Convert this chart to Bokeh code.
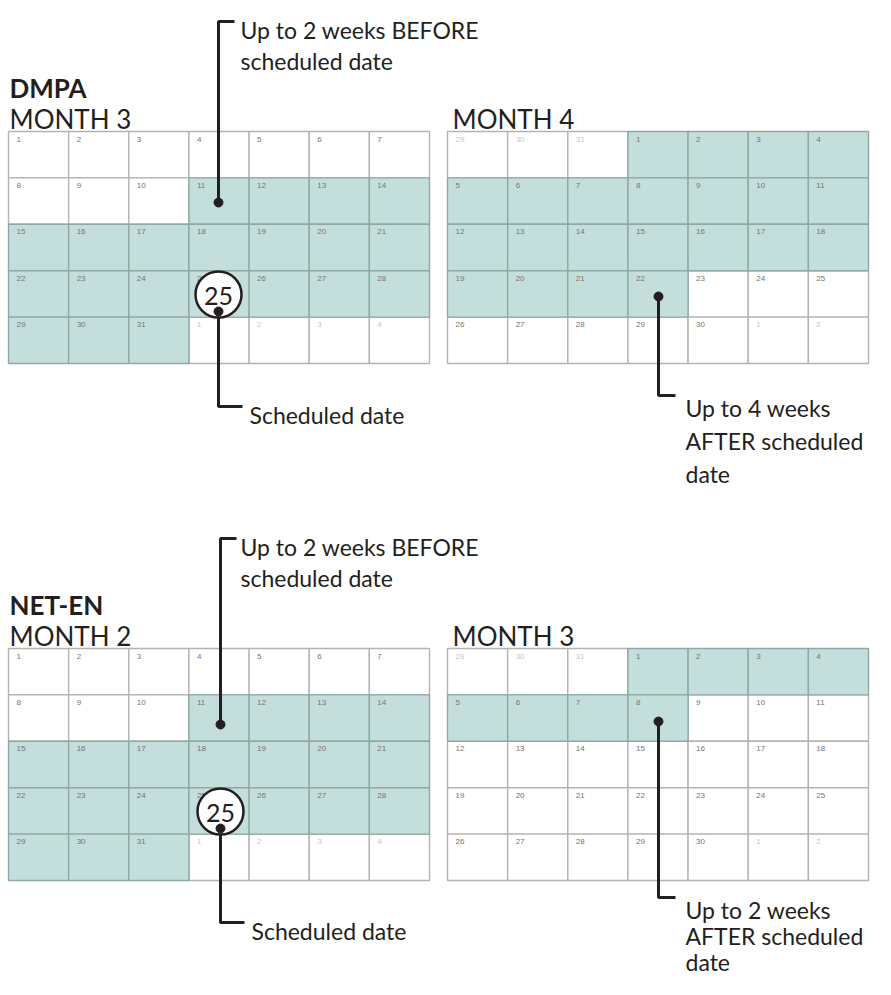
from bokeh.plotting import figure
from bokeh.models import Range1d, ColumnDataSource
from bokeh.core.properties import value
from bokeh.embed import file_html
from bokeh.resources import INLINE

# ---------------- data ----------------
# Calendar A (first month shown: day 1 on first cell)
days_first = [1, 2, 3, 4, 5, 6, 7,
              8, 9, 10, 11, 12, 13, 14,
              15, 16, 17, 18, 19, 20, 21,
              22, 23, 24, 25, 26, 27, 28,
              29, 30, 31, 1, 2, 3, 4]
in_month_first = [1] * 31 + [0] * 4

# Calendar B (following month: starts on 4th weekday)
days_second = [29, 30, 31, 1, 2, 3, 4,
               5, 6, 7, 8, 9, 10, 11,
               12, 13, 14, 15, 16, 17, 18,
               19, 20, 21, 22, 23, 24, 25,
               26, 27, 28, 29, 30, 1, 2]
in_month_second = [0] * 3 + [1] * 30 + [0] * 2

# Window of days (day numbers inside the month) that are highlighted
dmpa_first_window = (11, 31)
dmpa_second_window = (1, 22)
neten_first_window = (11, 31)
neten_second_window = (1, 8)
scheduled_day = "25"

titles = ["DMPA", "NET-EN"]
month_labels = [("MONTH 3", "MONTH 4"), ("MONTH 2", "MONTH 3")]
before_text = ["Up to 2 weeks BEFORE", "scheduled date"]
sched_text = "Scheduled date"
after_texts = [["Up to 4 weeks", "AFTER scheduled", "date"],
               ["Up to 2 weeks", "AFTER scheduled", "date"]]

# ---------------- styles ----------------
FONT = "Lato"
INK = "#231f20"
TEAL = "#c4dfdb"
TEAL_LINE = "#8ea9a5"
GRID_LINE = "#b4b4b4"
NUM_IN = "#747474"
NUM_OUT = "#c6c6c6"

W, H = 875, 979
p = figure(width=W, height=H, output_backend="svg", toolbar_location=None,
           x_range=Range1d(0, W), y_range=Range1d(H, 0),
           x_axis_type=None, y_axis_type=None, min_border=0)
p.grid.visible = False
p.outline_line_color = None
p.background_fill_color = "white"
p.border_fill_color = "white"

CAL_W, CAL_H = 421.0, 232.0


def draw_calendar(x0, y0, days, in_month, window):
    cw = CAL_W / 7
    rh = CAL_H / 5
    data = {k: [] for k in ["l", "r", "t", "b", "fill", "line", "tx", "ty",
                            "lab", "col", "hl"]}
    for i, (d, m) in enumerate(zip(days, in_month)):
        c, r = i % 7, i // 7
        left = x0 + c * cw
        top = y0 + r * rh
        hl = bool(m) and window[0] <= d <= window[1]
        data["l"].append(left)
        data["r"].append(left + cw)
        data["t"].append(top)
        data["b"].append(top + rh)
        data["fill"].append(TEAL if hl else "white")
        data["line"].append(TEAL_LINE if hl else GRID_LINE)
        data["tx"].append(left + 8)
        data["ty"].append(top + 5)
        data["lab"].append(str(d))
        data["col"].append(NUM_IN if m else NUM_OUT)
        data["hl"].append(hl)
    order = [i for i in range(len(days)) if not data["hl"][i]] + \
            [i for i in range(len(days)) if data["hl"][i]]
    src = ColumnDataSource({k: [v[i] for i in order] for k, v in data.items()})
    p.quad(left="l", right="r", top="t", bottom="b", fill_color="fill",
           line_color="line", line_width=1.4, source=src)
    p.text(x="tx", y="ty", text="lab", text_color="col",
           text_font=value("Liberation Sans"), text_font_size="8px",
           text_baseline="top", text_align="left", source=src)


def label(x, y, txt, size="23px", bold=False):
    p.text(x=[x], y=[y], text=[txt], text_color=INK, text_font=value(FONT),
           text_font_size=size, text_baseline="alphabetic", text_align="left",
           text_font_style="bold" if bold else "normal")


LX, RX = 8, 447
blocks = [
    dict(y0=131, windows=(dmpa_first_window, dmpa_second_window),
         title=titles[0], months=month_labels[0], after=after_texts[0],
         before_y=21, before_dot=(218, 202), circ=(218, 294), sched_y=406,
         after_dot=(658, 296), after_y=395, after_gap=33),
    dict(y0=648, windows=(neten_first_window, neten_second_window),
         title=titles[1], months=month_labels[1], after=after_texts[1],
         before_y=538, before_dot=(220, 724), circ=(220, 811), sched_y=922,
         after_dot=(658, 721), after_y=897, after_gap=26),
]

for b in blocks:
    y0 = b["y0"]
    draw_calendar(LX, y0, days_first, in_month_first, b["windows"][0])
    draw_calendar(RX, y0, days_second, in_month_second, b["windows"][1])
    label(9, y0 - 44, b["title"], size="26px", bold=True)
    label(9, y0 - 13, b["months"][0], size="26px")
    label(452, y0 - 13, b["months"][1], size="26px")

    # BEFORE annotation
    bx, by = b["before_dot"]
    p.line(x=[bx + 16, bx, bx], y=[b["before_y"], b["before_y"], by],
           line_color=INK, line_width=3)
    p.scatter(x=[bx], y=[by], size=9, color=INK)
    label(240, b["before_y"] + 8, before_text[0])
    label(240, b["before_y"] + 39, before_text[1])

    # scheduled date
    cx, cy = b["circ"]
    p.line(x=[cx, cx, cx + 24], y=[cy + 17, b["sched_y"], b["sched_y"]],
           line_color=INK, line_width=3)
    p.scatter(x=[cx], y=[cy], size=46, fill_color="white", line_color=INK,
              line_width=2.5)
    p.text(x=[cx], y=[cy + 1], text=[scheduled_day], text_color=INK,
           text_font=value(FONT), text_font_size="25px",
           text_baseline="middle", text_align="center")
    p.scatter(x=[cx], y=[cy + 17], size=9, color=INK)
    label(cx + 31, b["sched_y"] + 8, sched_text)

    # AFTER annotation
    ax, ay = b["after_dot"]
    p.line(x=[ax, ax, ax + 17], y=[ay, b["after_y"], b["after_y"]],
           line_color=INK, line_width=3)
    p.scatter(x=[ax], y=[ay], size=9, color=INK)
    for k, t in enumerate(b["after"]):
        label(685, b["after_y"] + 12 + b["after_gap"] * k, t)

open("out.html", "w").write(file_html(p, INLINE))
